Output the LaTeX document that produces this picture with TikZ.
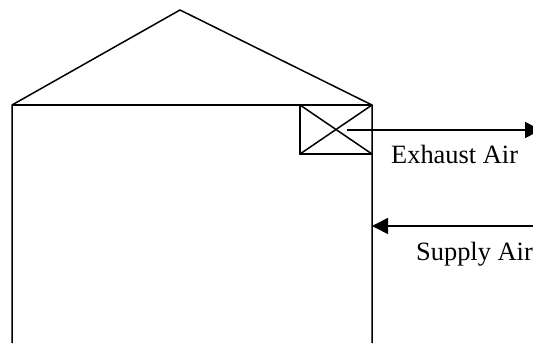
\documentclass[tikz,border=0pt]{standalone}
\usepackage{fontspec}
\setmainfont{Liberation Serif}
\usetikzlibrary{arrows.meta}
\tikzset{ln/.style={draw=black,line width=1.5pt},tip/.style={-{Triangle[length=16pt,width=16pt]}},lab/.style={font=\fontsize{26.4}{28}\selectfont,text=black,inner sep=0pt}}
\begin{document}
\begin{tikzpicture}[x=1pt,y=-1pt]
\useasboundingbox (0,0) rectangle (533,343);
\fill[white] (0,0) rectangle (533,343);
\coordinate (bl) at (12,343);
\coordinate (tl) at (12,105);
\coordinate (apex) at (180,10);
\coordinate (tr) at (372,105);
\coordinate (br) at (372,343);
\coordinate (b1) at (300,105);
\coordinate (b2) at (372,154);
\coordinate (b3) at (300,154);
\coordinate (exs) at (347,130);
\coordinate (exe) at (541,130);
\coordinate (sup) at (533,226);
\draw[ln] (bl) -- (tl) -- (apex) -- (tr) -- (br);
\draw[ln] (tl) -- (tr);
\draw[ln] (b1) -- (b3) -- (b2);
\draw[ln] (b1) -- (b2);
\draw[ln] (b3) -- (tr);
\draw[ln,tip] (exs) -- (exe);
\draw[ln,tip] (sup) -- (tr |- sup);
\node[lab,anchor=base west] (ex) at (391,163.5) {Exhaust Air};
\node[lab,anchor=base west] (su) at (416,260.5) {Supply Air};
\end{tikzpicture}
\end{document}
